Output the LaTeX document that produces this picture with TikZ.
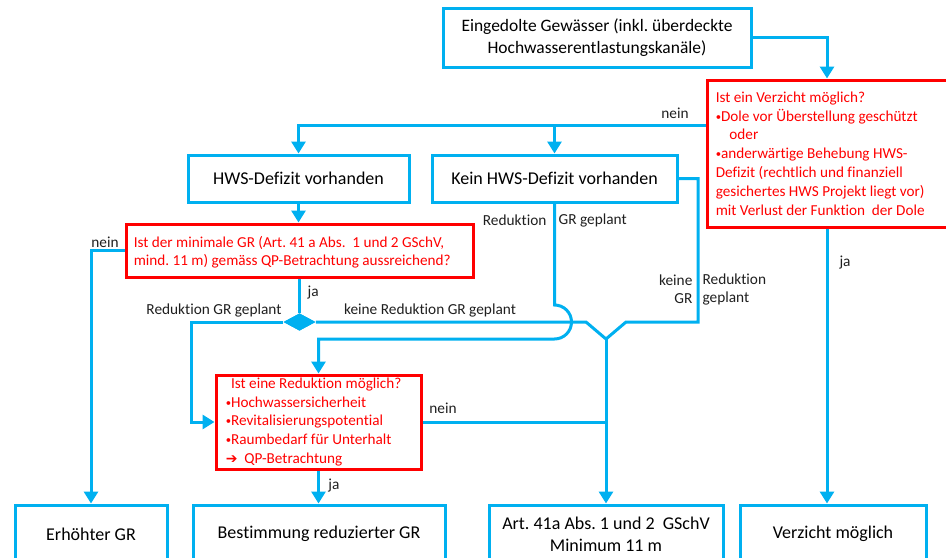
\documentclass[tikz,border=0pt]{standalone}
\usepackage{fontspec}
\setmainfont[Ligatures=NoCommon]{Carlito}
\newfontfamily\symfont{DejaVu Sans}
\usetikzlibrary{arrows.meta,calc,shapes.geometric}
\definecolor{hwsblue}{HTML}{00B0F0}
\definecolor{qred}{HTML}{FF0000}
\newcommand{\bul}{\raisebox{0.15ex}{\fontsize{8}{8}\selectfont •}}
\frenchspacing
\begin{document}
\begin{tikzpicture}[
    x=0.75pt, y=-0.75pt,
    box/.style={draw=hwsblue, line width=2.25pt, fill=white, align=center, inner sep=0pt,
        font=\fontsize{13.5}{16.5}\selectfont, text=black},
    redbox/.style={draw=qred, line width=2.25pt, fill=white, inner sep=0pt},
    redtext/.style={anchor=west, align=left, text=qred, inner sep=0pt,
        font=\fontsize{11.4}{14.1}\selectfont},
    line/.style={draw=hwsblue, line width=2.25pt},
    flow/.style={line, -{Triangle[width=10.5pt,length=9pt]}},
    lbl/.style={font=\fontsize{11.5}{13.5}\selectfont, text=black!88, inner sep=1pt},
    junction/.style={diamond, fill=hwsblue, draw=none, inner sep=0pt, minimum width=24pt, minimum height=13pt}
]
\useasboundingbox (0,0) rectangle (946,557);
\clip (0,0) rectangle (946,557);

% Start and the first question.
\node[box, minimum width=231pt, minimum height=44.25pt, font=\fontsize{13.1}{16}\selectfont] (top) at (597,37.5)
    {Eingedolte Gewässer (inkl. überdeckte\\Hochwasserentlastungskanäle)};
\node[redbox, minimum width=180pt, minimum height=110.25pt] (verz) at (827,153.5) {};
\node[redtext] (verztext) at ($(verz.west)+(10,0)$)
    {Ist ein Verzicht möglich?\\
     \bul Dole vor Überstellung geschützt\\
     \hspace*{0.9em}oder\\
     \bul anderwärtige Behebung HWS-\\
     Defizit (rechtlich und finanziell\\
     gesichertes HWS Projekt liegt vor)\\
     mit Verlust der Funktion\ \ der Dole};

% Second row.
\node[box, minimum width=165.75pt, minimum height=35.25pt] (hws) at (298.5,178.5) {HWS-Defizit vorhanden};
\node[box, minimum width=183.75pt, minimum height=35.25pt] (kein) at (554.5,178.5) {Kein HWS-Defizit vorhanden};

\node[redbox, minimum width=260.25pt, minimum height=39.75pt] (q1) at (299.5,250.5) {};
\node[redtext, font=\fontsize{11.4}{13.5}\selectfont] (q1text) at ($(q1.west)+(9,1.5)$)
    {Ist der minimale GR (Art. 41 a Abs.\ \ 1 und 2 GSchV,\\
     mind. 11 m) gemäss QP-Betrachtung aussreichend?};

\node[junction] (dia) at (299.5,322) {};

\node[redbox, minimum width=153.75pt, minimum height=70.5pt] (q2) at (318.5,422) {};
\node[redtext, font=\fontsize{11.4}{13.9}\selectfont] (q2text) at ($(q2.west)+(11,0)$)
    {\hspace*{0.35em}Ist eine Reduktion\ möglich?\\
     \bul Hochwassersicherheit\\
     \bul Revitalisierungspotential\\
     \bul Raumbedarf für Unterhalt\\
     {\symfont\bfseries\fontsize{10.5}{12}\selectfont ➔}\ \ QP-Betrachtung};

% Results (cut at the lower edge).
\node[box, minimum width=114pt, minimum height=43.5pt] (erh) at (91,534) {Erhöhter GR};
\node[box, minimum width=189pt, minimum height=43.5pt] (best) at (319,534) {Bestimmung reduzierter GR};
\node[box, minimum width=175.5pt, minimum height=43.5pt] (art) at (606,534) {Art. 41a Abs. 1 und 2\ \ GSchV\\Minimum 11 m};
\node[box, minimum width=139.5pt, minimum height=43.5pt] (verzm) at (833,534) {Verzicht möglich};

\coordinate (vj) at (606,339);
\coordinate (neinpt) at ($(verz.west)+(0,-28.5)$);

% Connectors.
\draw[flow] (top.east) -| (verz.north);
\draw[flow] (neinpt) -| (hws.north);
\draw[flow] (neinpt -| kein.north) -- (kein.north);
\draw[flow] (hws.south) -- (hws.south |- q1.north);
\draw[flow] (q1.west) -| (erh.north);
\draw[line] (q1.south) -- (dia.north);
\draw[flow] (dia.west) -| ($(q2.west)+(-23,0)$) -- (q2.west);
\draw[line] (dia.east) -- ($(vj)+(-20,-17)$) -- (vj);
\draw[line] (kein.east) -| ($(vj)+(92,-17)$) -- ($(vj)+(20,-17)$) -- (vj);
\draw[flow] (kein.south) -- ($(kein.south |- dia)+(0,-17)$)
    arc[start angle=90, end angle=-90, radius=12.75pt] -| (q2.north);
\draw[line] (q2.east) -- (q2.east -| vj);
\draw[flow] (vj) -- (art.north);
\draw[flow] (q2.south) -- (q2.south |- best.north);
\draw[flow] (verz.south) -- (verz.south |- verzm.north);
\node[junction] at (dia) {};

% Labels.
\node[lbl] (nein1) at (675,113) {nein};
\node[lbl] (nein2) at (105,242) {nein};
\node[lbl] (nein3) at (443,408) {nein};
\node[lbl, anchor=east] (red1a) at (548,220) {Reduktion};
\node[lbl, anchor=west] (red1b) at (557,220) {GR geplant};
\node[lbl, anchor=east, align=right] (kred1a) at (694,289) {keine\\GR};
\node[lbl, anchor=west, align=left] (kred1b) at (701,289) {Reduktion\\geplant};
\node[lbl] (red2) at (214,310) {Reduktion GR geplant};
\node[lbl] (kred2) at (430,310) {keine Reduktion GR geplant};
\node[lbl, anchor=west] (ja1) at (306,293) {ja};
\node[lbl] (ja2) at (334,486) {ja};
\node[lbl] (ja3) at (845,263) {ja};
\end{tikzpicture}
\end{document}
